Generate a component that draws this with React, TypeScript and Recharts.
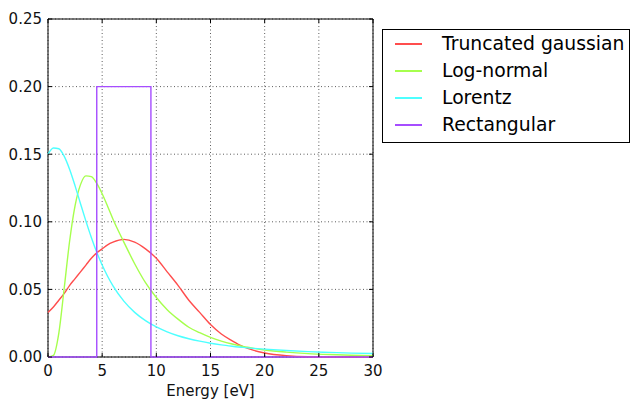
import React from 'react';
import { LineChart, Line, XAxis, YAxis, CartesianGrid, ReferenceArea } from 'recharts';

// Energy grid (eV) shared by the three smooth distributions
const energy = [0, 0.5, 1, 1.5, 2, 2.5, 3, 3.5, 4, 4.5, 5, 5.5, 6, 7, 8, 9, 10, 11, 12, 13, 14, 15, 16, 17, 18, 19, 20, 22, 24, 26, 28, 30];

const truncatedGaussian = [0.033, 0.037, 0.042, 0.047, 0.053, 0.058, 0.063, 0.068, 0.073, 0.077, 0.08, 0.083, 0.085, 0.087, 0.085, 0.08, 0.073, 0.063, 0.053, 0.042, 0.033, 0.024, 0.017, 0.012, 0.0077, 0.0049, 0.003, 0.001, 0.0002, 0.00004, 0, 0];

const logNormal = [0, 0.0012, 0.0177, 0.0512, 0.086, 0.112, 0.1275, 0.134, 0.1334, 0.1284, 0.1207, 0.1115, 0.1019, 0.085, 0.069, 0.055, 0.044, 0.035, 0.028, 0.022, 0.018, 0.0145, 0.0118, 0.0096, 0.0078, 0.0064, 0.0052, 0.0036, 0.0025, 0.0018, 0.0013, 0.0009];

const lorentz = [0.15, 0.1546, 0.154, 0.1484, 0.1387, 0.1266, 0.1134, 0.1005, 0.0884, 0.0775, 0.068, 0.0597, 0.0526, 0.0413, 0.033, 0.0269, 0.0222, 0.0186, 0.0157, 0.0135, 0.0117, 0.0102, 0.009, 0.008, 0.0071, 0.0064, 0.0058, 0.0048, 0.004, 0.0034, 0.0029, 0.0026];

// Rectangular distribution: step outline
const rectEnergy = [0, 4.5, 4.5, 9.5, 9.5, 30];
const rectValue = [0, 0, 0.2, 0.2, 0, 0];

const xTicks = [0, 5, 10, 15, 20, 25, 30];
const yTicks = [0, 0.05, 0.1, 0.15, 0.2, 0.25];

const seriesNames = ['Truncated gaussian', 'Log-normal', 'Lorentz', 'Rectangular'];
const seriesColors = ['#ff4d4d', '#a6ff4d', '#4dffff', '#a64dff'];

const xLabel = 'Energy [eV]';

// layout
const W = 631;
const H = 400;
const PLOT_LEFT = 48;
const PLOT_TOP = 19;
const PLOT_RIGHT = 373;
const PLOT_BOTTOM = 357;
const TICK_LEN = 4;
const X_TICK_MARGIN = 4;
const Y_TICK_MARGIN = 6;
const FONT = '"DejaVu Sans", sans-serif';

const toPoints = (xs: number[], ys: number[]) => xs.map((x, i) => ({ x, y: ys[i] }));

const gaussData = toPoints(energy, truncatedGaussian);
const logNormalData = toPoints(energy, logNormal);
const lorentzData = toPoints(energy, lorentz);
const rectData = toPoints(rectEnergy, rectValue);

const seriesData = [gaussData, logNormalData, lorentzData, rectData];
const seriesCurve: ('monotone' | 'linear')[] = ['monotone', 'monotone', 'monotone', 'linear'];

// Ticks point inward on all four sides of the frame
const XTick = (props: any) => {
  const { x, y, payload } = props;
  const axisY = y - X_TICK_MARGIN;
  return (
    <g>
      <line x1={x} x2={x} y1={axisY} y2={axisY - TICK_LEN} stroke="#000" strokeWidth={1} />
      <line x1={x} x2={x} y1={PLOT_TOP} y2={PLOT_TOP + TICK_LEN} stroke="#000" strokeWidth={1} />
      <text x={x} y={axisY + 18.5} textAnchor="middle" fontFamily={FONT} fontSize={15} fill="#111">
        {payload.value}
      </text>
    </g>
  );
};

const YTick = (props: any) => {
  const { x, y, payload } = props;
  const axisX = x + Y_TICK_MARGIN;
  return (
    <g>
      <line x1={axisX} x2={axisX + TICK_LEN} y1={y} y2={y} stroke="#000" strokeWidth={1} />
      <line x1={PLOT_RIGHT} x2={PLOT_RIGHT - TICK_LEN} y1={y} y2={y} stroke="#000" strokeWidth={1} />
      <text x={x} y={y} dy="0.36em" textAnchor="end" fontFamily={FONT} fontSize={15} fill="#111">
        {Number(payload.value).toFixed(2)}
      </text>
    </g>
  );
};

const LegendBox = () => (
  <div
    style={{
      position: 'absolute',
      left: 382,
      top: 29,
      width: 248,
      height: 114,
      boxSizing: 'border-box',
      border: '1px solid #000',
      background: '#fff',
      fontFamily: FONT,
      fontSize: 18.8,
      color: '#000',
    }}
  >
    {seriesNames.map((name, i) => (
      <div
        key={name}
        style={{ position: 'absolute', left: 0, top: i * 27, height: 27, width: '100%', display: 'flex', alignItems: 'center' }}
      >
        <div style={{ marginLeft: 12, width: 27, height: 2, background: seriesColors[i] }} />
        <span style={{ marginLeft: 20, lineHeight: '27px', whiteSpace: 'nowrap' }}>{name}</span>
      </div>
    ))}
  </div>
);

export default function App() {
  return (
    <div style={{ position: 'absolute', left: 0, top: 0, width: W, height: H, background: '#fff' }}>
      <LineChart
        width={W}
        height={H}
        margin={{ top: PLOT_TOP, right: W - PLOT_RIGHT, bottom: 0, left: 0 }}
      >
        <CartesianGrid stroke="#333" strokeWidth={0.8} strokeDasharray="1 2.5" />
        <XAxis
          dataKey="x"
          type="number"
          domain={[0, 30]}
          ticks={xTicks}
          allowDuplicatedCategory={false}
          height={H - PLOT_BOTTOM}
          tickSize={0}
          tickMargin={X_TICK_MARGIN}
          axisLine={false}
          tickLine={false}
          tick={<XTick />}
          label={{ value: xLabel, position: 'insideBottom', offset: 4, fontFamily: FONT, fontSize: 15, fill: '#111' }}
        />
        <YAxis
          type="number"
          domain={[0, 0.25]}
          ticks={yTicks}
          width={PLOT_LEFT}
          tickSize={0}
          tickMargin={Y_TICK_MARGIN}
          axisLine={false}
          tickLine={false}
          tick={<YTick />}
        />
        {seriesNames.map((name, i) => (
          <Line
            key={name}
            name={name}
            data={seriesData[i]}
            dataKey="y"
            type={seriesCurve[i]}
            stroke={seriesColors[i]}
            strokeWidth={1.4}
            dot={false}
            activeDot={false}
            isAnimationActive={false}
          />
        ))}
        <ReferenceArea x1={0} x2={30} y1={0} y2={0.25} fill="none" stroke="#000" strokeWidth={1} />
      </LineChart>
      <LegendBox />
    </div>
  );
}
